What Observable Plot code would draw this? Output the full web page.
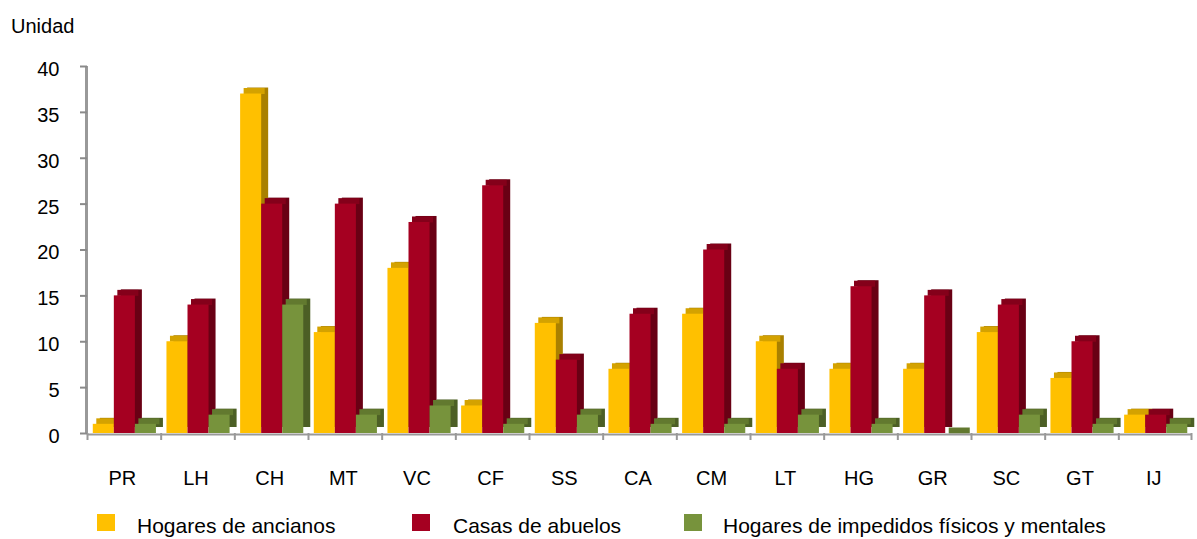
<!DOCTYPE html>
<html>
<head>
<meta charset="utf-8">
<script src="https://cdn.jsdelivr.net/npm/d3@7"></script>
<script src="https://cdn.jsdelivr.net/npm/@observablehq/plot@0.6"></script>
<style>
  body { margin: 0; background: #fff; font-family: "Liberation Sans", Arial, sans-serif; }
  #wrap { position: relative; width: 1197px; height: 539px; overflow: hidden; }
  #chart { position: absolute; left: 0; top: 0; }
  .unit { position: absolute; left: 11px; top: 14px; font-size: 20px; line-height: 24px; color: #000; }
  .lg-box { position: absolute; width: 18px; height: 17px; top: 514px; }
  .lg-text { position: absolute; top: 513px; font-size: 21px; line-height: 26px; color: #000; white-space: nowrap; }
</style>
</head>
<body>
<div id="wrap">
  <div class="unit">Unidad</div>
  <div id="chart"></div>
  <div id="legend"></div>
</div>
<script>
const categories = ["PR","LH","CH","MT","VC","CF","SS","CA","CM","LT","HG","GR","SC","GT","IJ"];
const seriesNames = ["Hogares de ancianos","Casas de abuelos","Hogares de impedidos físicos y mentales"];
const ancianos  = [1,10,37,11,18,3,12,7,13,10,7,7,11,6,2];
const abuelos   = [15,14,25,25,23,27,8,13,20,7,16,15,14,10,2];
const impedidos = [1,2,14,2,3,1,2,1,1,2,1,0,2,1,1];
const yTicks = [0,5,10,15,20,25,30,35,40];

const frontColors = ["#FFC000","#A50021","#77933C"];
const topColors   = ["#D4A200","#84001A","#62792F"];
const sideColors  = ["#A98000","#690014","#4C5F25"];

const seriesValues = [ancianos, abuelos, impedidos];
const rows = [];
categories.forEach((c, i) => seriesNames.forEach((s, j) => rows.push({cat: c, series: s, value: seriesValues[j][i]})));

const W = 1197, H = 500, ML = 87, MR = 5, MT = 66, MB = 67;
const facetW = (W - ML - MR) / categories.length;
const DX = 7, DY = -6;
const axisGray = "#999999";

const marks = [];
marks.push(Plot.ruleX(categories, {fx: d => d, x: null, y1: 0, y2: 0, insetBottom: -7, dx: -facetW / 2, stroke: axisGray, strokeWidth: 2}));
marks.push(Plot.ruleX([categories[categories.length - 1]], {fx: d => d, x: null, y1: 0, y2: 0, insetBottom: -7, dx: facetW / 2 - 1, stroke: axisGray, strokeWidth: 2}));
marks.push(Plot.ruleX([categories[0]], {fx: d => d, x: null, y1: 0, y2: 40, dx: -facetW / 2 - 1, stroke: axisGray, strokeWidth: 3}));

seriesNames.forEach((s, j) => {
  marks.push(Plot.barY(rows.filter(r => r.series === s), {fx: "cat", x: "series", y: "value", fill: sideColors[j], dx: DX, dy: DY}));
});
seriesNames.forEach((s, j) => {
  marks.push(Plot.tickY(rows.filter(r => r.series === s), {fx: "cat", x: "series", y: "value", stroke: topColors[j], strokeWidth: -DY, dx: DX / 2, dy: DY / 2}));
});
seriesNames.forEach((s, j) => {
  marks.push(Plot.barY(rows.filter(r => r.series === s), {fx: "cat", x: "series", y: "value", fill: frontColors[j]}));
});
marks.push(Plot.ruleY([0], {stroke: axisGray, strokeWidth: 2, dy: 1}));

marks.push(Plot.axisY(yTicks, {tickSize: 7, tickFormat: () => "", stroke: "#8a8a8a", strokeWidth: 2, label: null}));
marks.push(Plot.axisY(yTicks, {tickSize: 0, tickPadding: 28, fontSize: 20, dy: 3, fill: "#000", label: null}));
marks.push(Plot.axisFx({anchor: "bottom", tickSize: 0, tickPadding: 37, fontSize: 20, dx: -2, label: null, fill: "#000"}));

const chart = Plot.plot({
  width: W, height: H,
  marginTop: MT, marginBottom: MB, marginLeft: ML, marginRight: MR,
  style: {fontFamily: '"Liberation Sans", Arial, sans-serif', fontSize: "20px", background: "transparent", color: "#000"},
  fx: {domain: categories, padding: 0, round: false, label: null},
  x: {domain: seriesNames, paddingInner: 0, paddingOuter: 0.25, align: 0.55, round: false, axis: null},
  y: {domain: [0, 40], label: null},
  marks
});
document.getElementById("chart").appendChild(chart);

const legendX = [[97, 137], [412, 453], [684, 723]];
const legend = document.getElementById("legend");
seriesNames.forEach((s, j) => {
  const box = document.createElement("div");
  box.className = "lg-box";
  box.style.left = legendX[j][0] + "px";
  box.style.background = frontColors[j];
  legend.appendChild(box);
  const t = document.createElement("div");
  t.className = "lg-text";
  t.style.left = legendX[j][1] + "px";
  t.textContent = s;
  legend.appendChild(t);
});
</script>
</body>
</html>
